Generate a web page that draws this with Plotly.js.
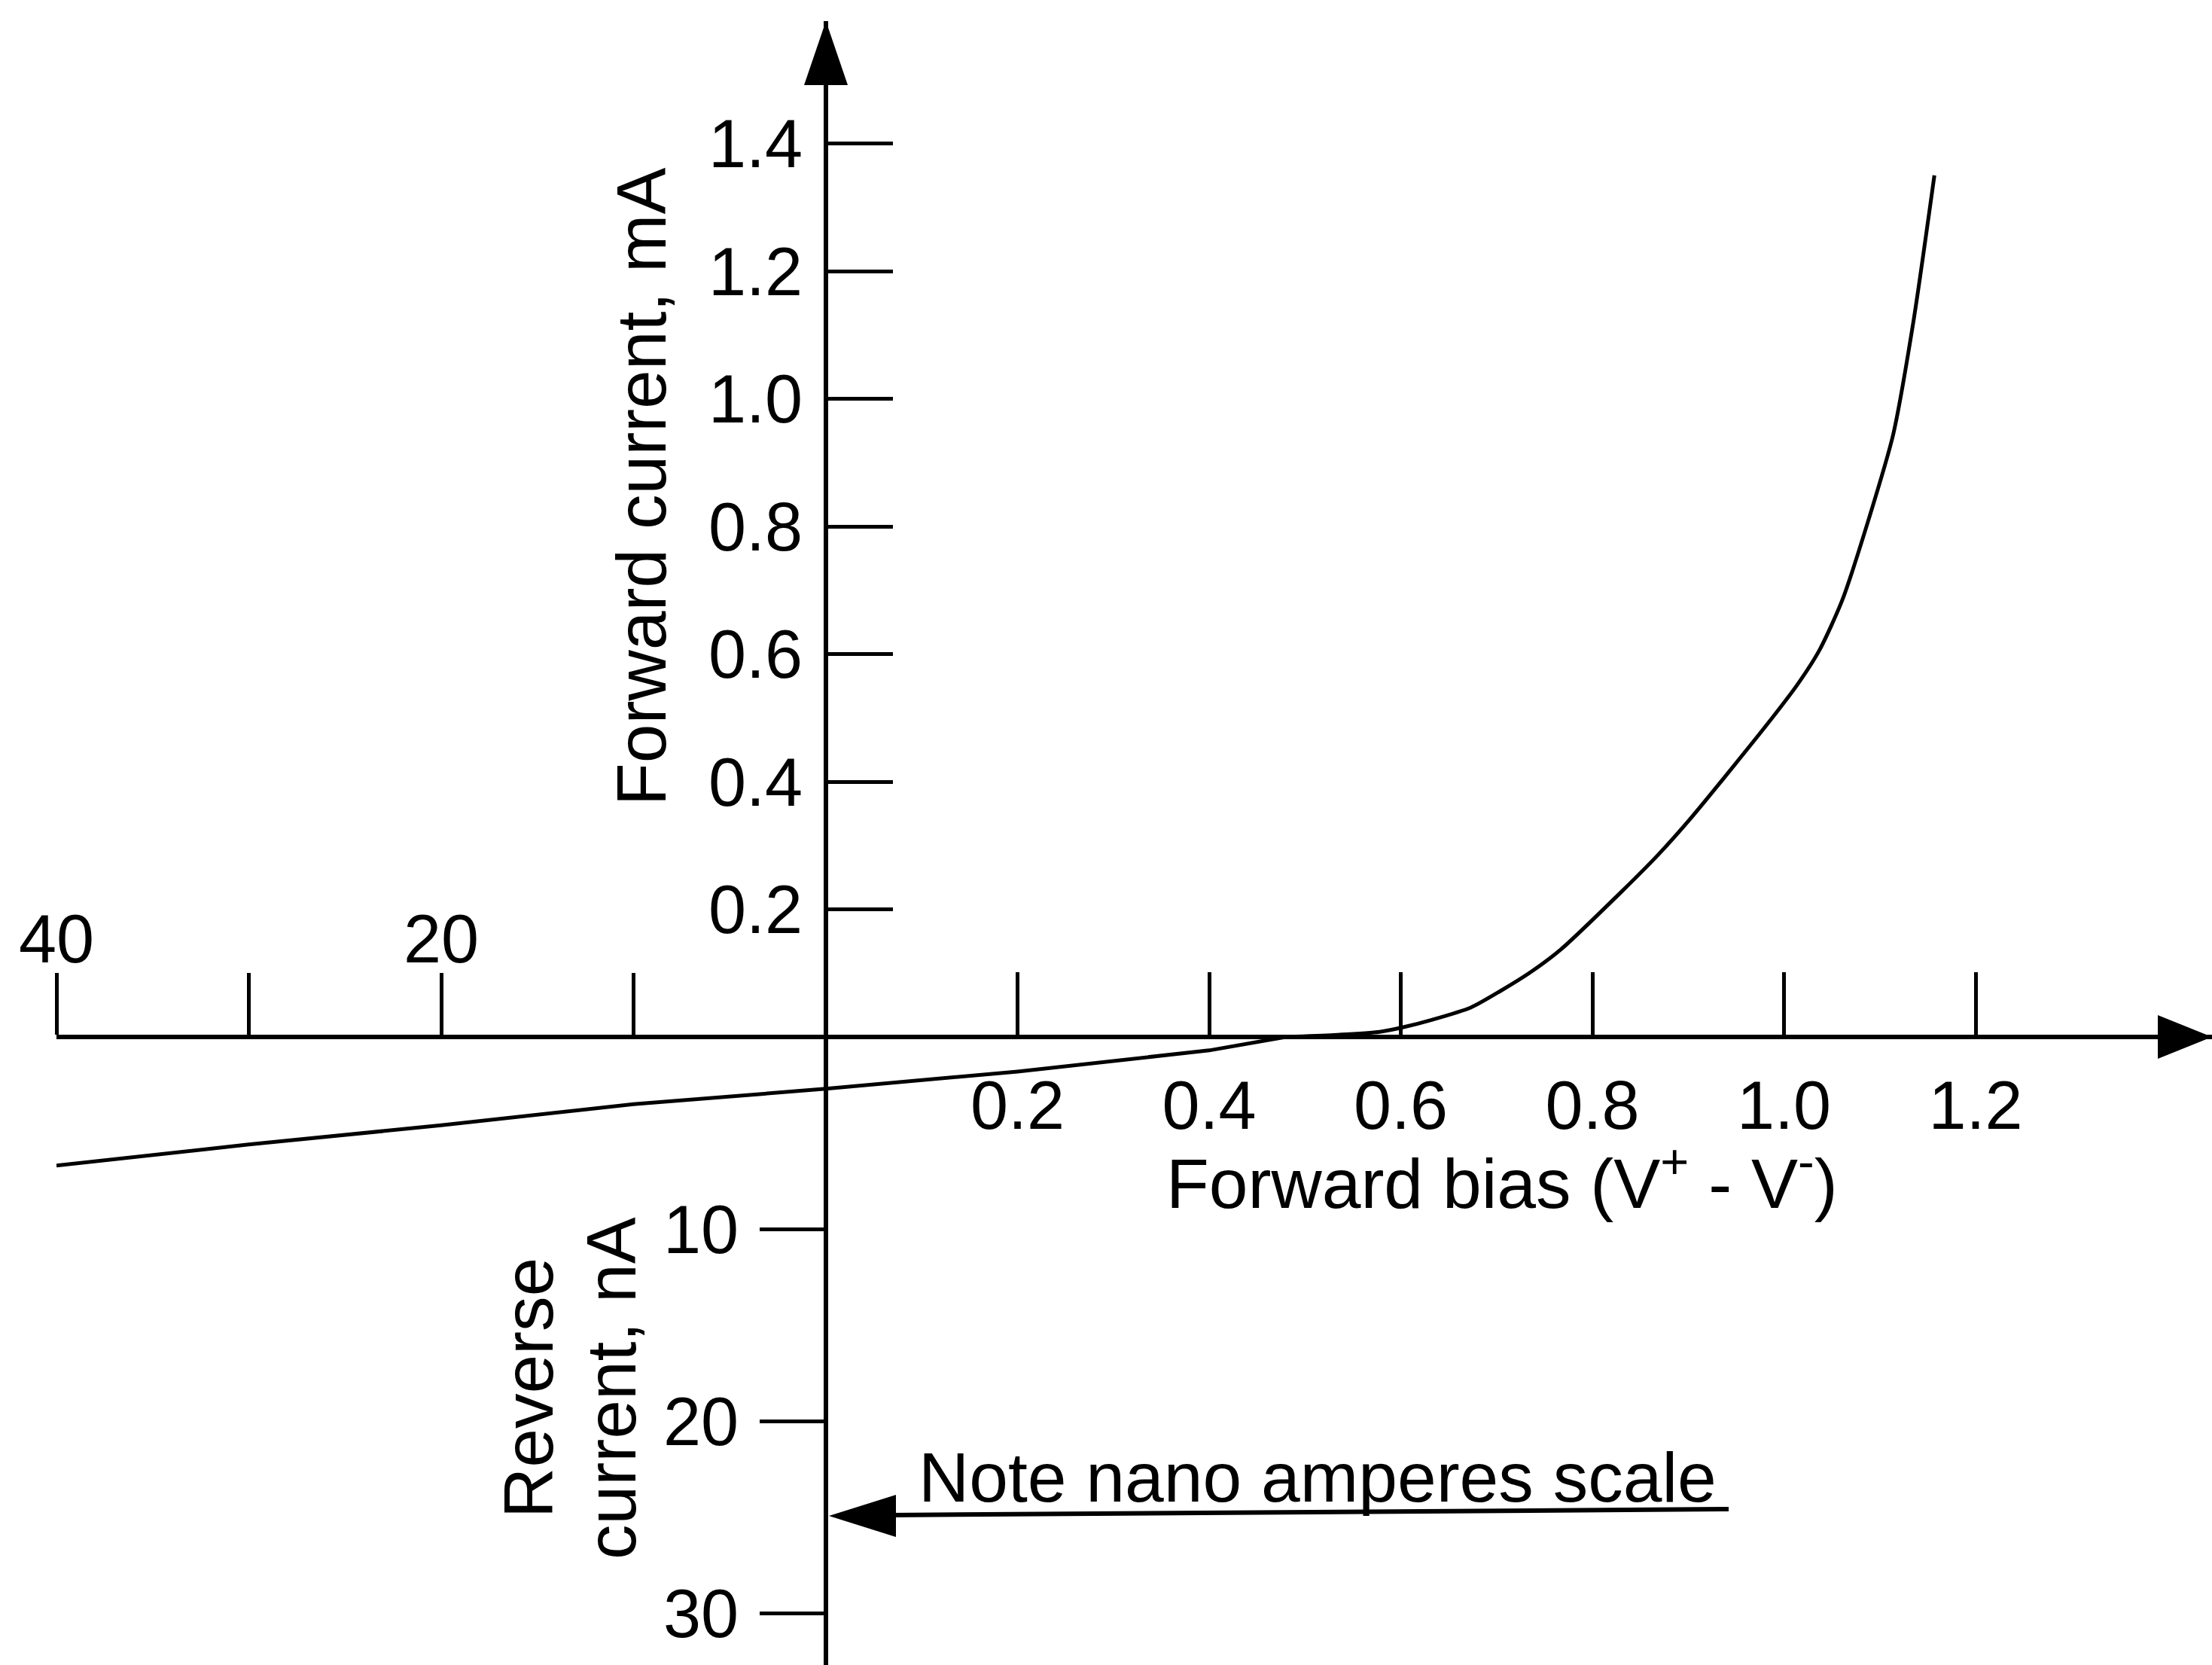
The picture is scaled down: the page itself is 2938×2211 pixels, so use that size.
<!DOCTYPE html>
<html>
<head>
<meta charset="utf-8">
<script src="https://cdn.plot.ly/plotly-3.0.1.min.js"></script>
<style>html,body{margin:0;padding:0;background:#fff;}#chart{width:2938px;height:2211px;}</style>
</head>
<body>
<div id="chart"></div>
<script>
// ---- data ----
// forward characteristic: forward bias (V) vs forward current (mA)
const fwdVolts   = [0.48, 0.53, 0.578, 0.602, 0.633, 0.673, 0.704, 0.736, 0.767, 0.830, 0.869, 0.904, 0.982, 1.014, 1.037, 1.061, 1.089, 1.114, 1.135, 1.157];
const fwdCurrent = [0.0, 0.003, 0.008, 0.015, 0.027, 0.046, 0.072, 0.102, 0.137, 0.227, 0.286, 0.345, 0.489, 0.552, 0.606, 0.685, 0.814, 0.944, 1.120, 1.350];
// leakage line, reverse-bias side: reverse voltage (V) vs reverse current (nA)
const revVolts   = [0, 10, 20, 30, 40];
const revCurrent = [2.7, 3.5, 4.6, 5.6, 6.7];
// leakage line continuing into small forward bias (V) vs reverse current (nA)
const leakVolts   = [0, 0.2, 0.4, 0.48];
const leakCurrent = [2.7, 1.8, 0.7, 0.0];
// tick labels
const fwdTicks   = [0.2, 0.4, 0.6, 0.8, 1.0, 1.2];
const fwdLabels  = ['0.2', '0.4', '0.6', '0.8', '1.0', '1.2'];
const revTicks   = [20, 40];
const revLabels  = ['20', '40'];
const revMinor   = [10, 30];
const mATicks    = [0.2, 0.4, 0.6, 0.8, 1.0, 1.2, 1.4];
const mALabels   = ['0.2', '0.4', '0.6', '0.8', '1.0', '1.2', '1.4'];
const nATicks    = [10, 20, 30];
const nALabels   = ['10', '20', '30'];

// ---- geometry (pixels) ----
const W = 2938, H = 2211;
const OX = 1097, OY = 1377;       // origin
const LEFT_END = 75;              // x of the 40 V tick
const TOP_END = 28;               // tip of vertical arrow
const PX_PER_V = 1272.5, PX_PER_MA = 847.5, PX_PER_NA = 25.5;
const PAD = 10;                   // small overlap to avoid clipping lines at zero
const px = x => x / W, py = y => 1 - y / H;

const FONT = 'Liberation Sans, Arial, Helvetica, sans-serif';
const TICKF = {family: FONT, size: 90, color: '#000'};
const TITLEF = {family: FONT, size: 93, color: '#000'};

const common = {showgrid: false, zeroline: false, showline: true, linecolor: '#000', linewidth: 6,
  tickcolor: '#000', tickwidth: 5, tickmode: 'array', tickfont: TICKF, fixedrange: true};

const line = {color: '#000', width: 5};
const traces = [
  {type: 'scatter', mode: 'lines', x: fwdVolts, y: fwdCurrent, xaxis: 'x', yaxis: 'y',
   line: Object.assign({shape: 'spline', smoothing: 0.7}, line), hoverinfo: 'skip'},
  {type: 'scatter', mode: 'lines', x: revVolts, y: revCurrent, xaxis: 'x2', yaxis: 'y2', line: line, hoverinfo: 'skip'},
  {type: 'scatter', mode: 'lines', x: leakVolts, y: leakCurrent, xaxis: 'x', yaxis: 'y2', line: line, hoverinfo: 'skip'}
];

const layout = {
  width: W, height: H, margin: {l: 0, r: 0, t: 0, b: 0}, autosize: false,
  paper_bgcolor: '#fff', plot_bgcolor: 'rgba(0,0,0,0)', showlegend: false,
  xaxis: Object.assign({}, common, {domain: [px(OX), 1], range: [0, (W - OX) / PX_PER_V],
    anchor: 'free', position: py(OY), side: 'bottom', ticks: 'inside', ticklen: 83,
    tickvals: fwdTicks, ticktext: fwdLabels, ticklabelstandoff: 11}),
  xaxis2: Object.assign({}, common, {domain: [px(LEFT_END), px(OX)], range: [40, 0],
    anchor: 'free', position: py(OY), side: 'top', ticks: 'outside', ticklen: 82,
    tickvals: revTicks, ticktext: revLabels, ticklabelstandoff: -22,
    minor: {tickmode: 'array', tickvals: revMinor, ticks: 'outside', ticklen: 82, tickwidth: 5, tickcolor: '#000', showgrid: false}}),
  yaxis: Object.assign({}, common, {domain: [py(OY + PAD), py(TOP_END)],
    range: [-PAD / PX_PER_MA, (OY - TOP_END) / PX_PER_MA],
    anchor: 'free', position: px(OX), side: 'left', ticks: 'inside', ticklen: 86,
    tickvals: mATicks, ticktext: mALabels, ticklabelstandoff: 10}),
  yaxis2: Object.assign({}, common, {domain: [0, py(OY - PAD)],
    range: [(H - OY) / PX_PER_NA, -PAD / PX_PER_NA],
    anchor: 'free', position: px(OX), side: 'left', ticks: 'outside', ticklen: 85,
    tickvals: nATicks, ticktext: nALabels, ticklabelstandoff: 10}),
  shapes: [
    // arrowhead on vertical axis
    {type: 'path', xref: 'paper', yref: 'paper', fillcolor: '#000', line: {width: 0},
     path: `M ${px(OX)} ${py(TOP_END)} L ${px(OX - 29)} ${py(113)} L ${px(OX + 29)} ${py(113)} Z`},
    // arrowhead on horizontal axis
    {type: 'path', xref: 'paper', yref: 'paper', fillcolor: '#000', line: {width: 0},
     path: `M ${px(W)} ${py(OY)} L ${px(2866)} ${py(OY - 29)} L ${px(2866)} ${py(OY + 29)} Z`},
    // "note" pointer line
    {type: 'line', xref: 'paper', yref: 'paper', x0: px(2296), y0: py(2004), x1: px(1180), y1: py(2012),
     line: {color: '#000', width: 6}},
    {type: 'path', xref: 'paper', yref: 'paper', fillcolor: '#000', line: {width: 0},
     path: `M ${px(OX + 4)} ${py(2013)} L ${px(1190)} ${py(1985)} L ${px(1190)} ${py(2041)} Z`}
  ],
  annotations: [
    {xref: 'paper', yref: 'paper', x: px(852), y: py(646), text: 'Forward current, mA', textangle: -90,
     showarrow: false, font: TITLEF, xanchor: 'center', yanchor: 'middle'},
    {xref: 'paper', yref: 'paper', x: px(1995), y: py(1565), text: 'Forward bias (V<sup>+</sup> - V<sup>-</sup>)',
     showarrow: false, font: TITLEF, xanchor: 'center', yanchor: 'middle'},
    {xref: 'paper', yref: 'paper', x: px(702), y: py(1843), text: 'Reverse', textangle: -90,
     showarrow: false, font: TITLEF, xanchor: 'center', yanchor: 'middle'},
    {xref: 'paper', yref: 'paper', x: px(812), y: py(1844), text: 'current, nA', textangle: -90,
     showarrow: false, font: TITLEF, xanchor: 'center', yanchor: 'middle'},
    {xref: 'paper', yref: 'paper', x: px(1750), y: py(1962), text: 'Note nano amperes scale',
     showarrow: false, font: TITLEF, xanchor: 'center', yanchor: 'middle'}
  ]
};

Plotly.newPlot('chart', traces, layout, {staticPlot: true, displayModeBar: false});
</script>
</body>
</html>
